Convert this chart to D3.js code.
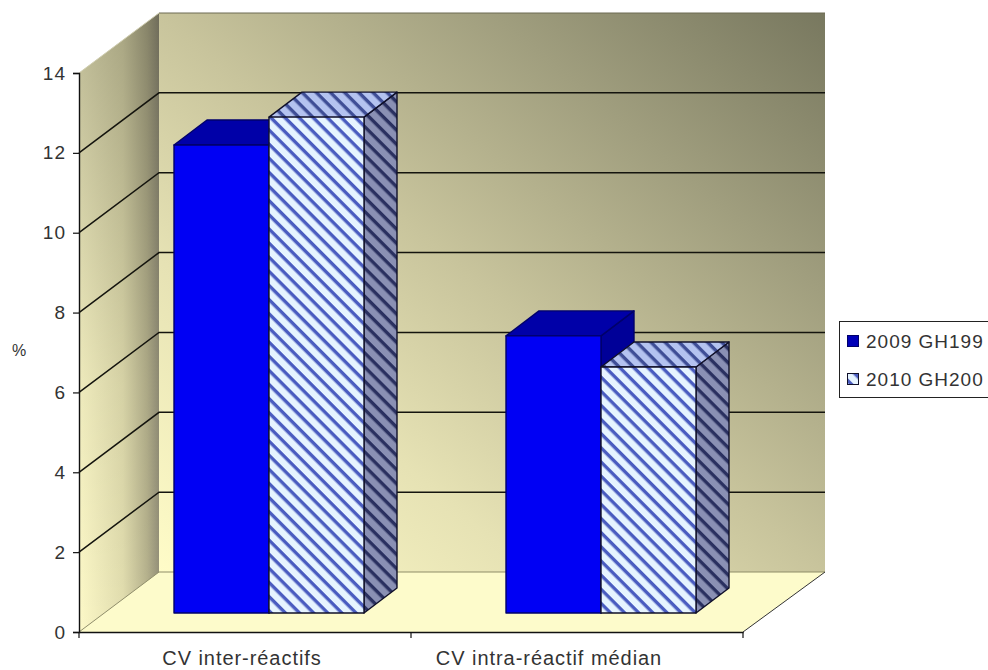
<!DOCTYPE html>
<html>
<head>
<meta charset="utf-8">
<script src="https://cdn.jsdelivr.net/npm/d3@7"></script>
<style>
html,body{margin:0;padding:0;background:#fff;overflow:hidden}
svg{display:block}
text{font-family:"Liberation Sans",Arial,sans-serif;fill:#333}
</style>
</head>
<body>
<svg id="chart" width="988" height="670"></svg>
<script>
const categories = ["CV inter-réactifs", "CV intra-réactif médian"];
const seriesNames = ["2009 GH199", "2010 GH200"];
const series2009 = [11.72, 6.94];
const series2010 = [12.42, 6.16];
const yTicks = [0, 2, 4, 6, 8, 10, 12, 14];
const yLabel = "%";

const svg = d3.select("#chart");
const defs = svg.append("defs");

// Plot frame: the front plane of the box and the oblique offset to its back wall.
const plotLeft = 79, plotRight = 743, plotBottom = 632, plotTop = 73;
const depthX = 80, depthY = -60;
const y = d3.scaleLinear().domain([0, 14]).range([plotBottom, plotTop]);
const x = d3.scaleBand().domain(categories).range([plotLeft, plotRight]);
const seriesBand = d3.scaleBand().domain(seriesNames).range([0, 190]);

// Bars stand partway into the box, and have their own shallower depth.
const barInsetX = 24, barInsetY = -19;
const barDepthX = 33, barDepthY = -25;

function gradient(id, attrs, stops) {
  const g = defs.append("linearGradient").attr("id", id);
  Object.entries(attrs).forEach(([k, v]) => g.attr(k, v));
  stops.forEach(([o, c, a]) => {
    const s = g.append("stop").attr("offset", o).attr("stop-color", c);
    if (a !== undefined) s.attr("stop-opacity", a);
  });
}
// The back wall runs from pale cream at lower left to dark olive at upper right.
gradient("wallBack", {x1: 0, y1: 1, x2: 1, y2: 0}, [
  [0, "#fffcc8"], [0.28, "#e6e2b4"], [0.5, "#c8c49c"], [0.75, "#a09e7e"], [1, "#78785f"]
]);
gradient("wallSide", {x1: 0, y1: 0, x2: 1, y2: 0}, [
  [0, "#fdf9c8"], [0.55, "#e2deaf"], [0.85, "#b7b38e"], [1, "#96927a"]
]);
gradient("wallSideShade", {x1: 0, y1: 0, x2: 0, y2: 1}, [
  ["0", "#000", 0.26], ["0.6", "#000", 0.06], ["1", "#000", 0]
]);

function stripes(id, bg, fg) {
  const p = defs.append("pattern").attr("id", id).attr("patternUnits", "userSpaceOnUse")
    .attr("width", 10).attr("height", 10).attr("patternTransform", "rotate(45)");
  p.append("rect").attr("width", 10).attr("height", 10).attr("fill", bg);
  p.append("rect").attr("width", 10).attr("height", 3.4).attr("fill", fg);
}
stripes("hatchFront", "#e6f4ff", "#4a5cc0");
stripes("hatchTop", "#b4c3f0", "#3f4e96");
stripes("hatchSide", "#8a90b4", "#2a3060");

const pts = a => a.map(p => p.join(",")).join(" ");
const walls = svg.append("g");

// Floor
walls.append("polygon")
  .attr("points", pts([[plotLeft, plotBottom], [plotRight, plotBottom], [plotRight + depthX + 2, plotBottom + depthY], [plotLeft + depthX, plotBottom + depthY]]))
  .attr("fill", "#fdfbcb");

// Back wall
walls.append("rect")
  .attr("x", plotLeft + depthX).attr("y", plotTop + depthY)
  .attr("width", plotRight - plotLeft + 2).attr("height", plotBottom - plotTop)
  .attr("fill", "url(#wallBack)");

// Side wall, darkening toward the back edge and toward the top
const sideWall = pts([[plotLeft, plotBottom], [plotLeft, plotTop], [plotLeft + depthX, plotTop + depthY], [plotLeft + depthX, plotBottom + depthY]]);
walls.append("polygon").attr("points", sideWall).attr("fill", "url(#wallSide)");
walls.append("polygon").attr("points", sideWall).attr("fill", "url(#wallSideShade)");

// Box edges
walls.append("line")
  .attr("x1", plotLeft + depthX).attr("x2", plotRight + depthX + 2)
  .attr("y1", plotTop + depthY).attr("y2", plotTop + depthY)
  .attr("stroke", "#6d6b52").attr("stroke-width", 1);
walls.append("line")
  .attr("x1", plotLeft + depthX).attr("x2", plotRight + depthX + 2)
  .attr("y1", plotBottom + depthY).attr("y2", plotBottom + depthY)
  .attr("stroke", "#8f8d68").attr("stroke-width", 1);
walls.append("line")
  .attr("x1", plotRight).attr("x2", plotRight + depthX + 2)
  .attr("y1", plotBottom).attr("y2", plotBottom + depthY)
  .attr("stroke", "#333").attr("stroke-width", 1);
walls.append("line")
  .attr("x1", plotLeft).attr("x2", plotLeft + depthX)
  .attr("y1", y(0)).attr("y2", y(0) + depthY)
  .attr("stroke", "#8f8d68").attr("stroke-width", 1);
walls.append("line")
  .attr("x1", plotLeft).attr("x2", plotLeft + depthX)
  .attr("y1", y(14)).attr("y2", y(14) + depthY)
  .attr("stroke", "#cfcdb0").attr("stroke-width", 1);

// Gridlines along the side wall and across the back wall
const gridTicks = yTicks.filter(t => t > 0 && t < 14);
const grid = svg.append("g").attr("stroke", "#14140e").attr("fill", "none").attr("stroke-width", 1.5);
grid.selectAll("path").data(gridTicks).join("path")
  .attr("d", t => `M${plotLeft},${y(t)}L${plotLeft + depthX},${y(t) + depthY}L${plotRight + depthX + 2},${y(t) + depthY}`);

// Bars: one face at a time, back faces first
const rows = categories.map((c, i) => [
  {cat: c, name: seriesNames[0], v: series2009[i]},
  {cat: c, name: seriesNames[1], v: series2010[i]}
]).flat();

function barGeom(d) {
  const x0 = x(d.cat) + barInsetX + (x.bandwidth() - seriesBand.range()[1]) / 2 + seriesBand(d.name);
  const x1 = x0 + seriesBand.bandwidth();
  return {x0, x1, yTop: y(d.v) + barInsetY, yBase: y(0) + barInsetY};
}
const styles = {
  [seriesNames[0]]: {front: "#0000f4", top: "#0000a8", side: "#000098", stroke: "#00006a", chip: "#0000b8"},
  [seriesNames[1]]: {front: "url(#hatchFront)", top: "url(#hatchTop)", side: "url(#hatchSide)", stroke: "#10102a", chip: "url(#hatchFront)"}
};

// Draw order keeps nearer bars on top of the tops and sides behind them.
const bars = svg.append("g");
rows.forEach(d => {
  const g = barGeom(d), s = styles[d.name];
  const bar = bars.append("g").attr("stroke", s.stroke).attr("stroke-width", 1.4).attr("stroke-linejoin", "round");
  bar.append("polygon")
    .attr("points", pts([[g.x1, g.yTop], [g.x1 + barDepthX, g.yTop + barDepthY], [g.x1 + barDepthX, g.yBase + barDepthY], [g.x1, g.yBase]]))
    .attr("fill", s.side);
  bar.append("polygon")
    .attr("points", pts([[g.x0, g.yTop], [g.x0 + barDepthX, g.yTop + barDepthY], [g.x1 + barDepthX, g.yTop + barDepthY], [g.x1, g.yTop]]))
    .attr("fill", s.top);
  bar.append("rect")
    .attr("x", g.x0).attr("y", g.yTop)
    .attr("width", g.x1 - g.x0).attr("height", g.yBase - g.yTop)
    .attr("fill", s.front);
});

// Axes
const axisY = svg.append("g").attr("transform", `translate(${plotLeft},0)`)
  .call(d3.axisLeft(y).tickValues(yTicks).tickSize(6).tickPadding(7).tickFormat(d3.format("d")));
axisY.selectAll("text").attr("font-size", 19).attr("letter-spacing", 1).style("fill", "#333");
axisY.select(".domain").attr("stroke", "#111").attr("stroke-width", 1.4);
axisY.selectAll(".tick line").attr("stroke", "#111").attr("stroke-width", 1.2);

const axisX = svg.append("g").attr("transform", `translate(0,${plotBottom})`)
  .call(d3.axisBottom(x).tickSize(0).tickPadding(19));
axisX.selectAll(".tick text").attr("font-size", 20).attr("letter-spacing", 0.95).style("fill", "#333")
  .attr("dx", (d, i) => [-3, -28][i]);
axisX.select(".domain").attr("stroke", "#111").attr("stroke-width", 1.4);
axisX.selectAll(".sep").data([plotLeft, plotLeft + x.bandwidth(), plotRight]).join("line")
  .attr("class", "sep").attr("x1", d => d).attr("x2", d => d)
  .attr("y1", 0).attr("y2", 6).attr("stroke", "#111").attr("stroke-width", 1.2);

svg.append("text").attr("x", 19).attr("y", 356).attr("text-anchor", "middle")
  .attr("font-size", 16).text(yLabel);

// Legend
const legend = svg.append("g");
legend.append("rect").attr("x", 839.5).attr("y", 321.5).attr("width", 170).attr("height", 76)
  .attr("fill", "#fff").attr("stroke", "#222").attr("stroke-width", 1);
const item = legend.selectAll("g.item").data(seriesNames).join("g").attr("class", "item")
  .attr("transform", (d, i) => `translate(0,${341 + i * 38})`);
item.append("rect").attr("x", 847.5).attr("y", -5.5).attr("width", 11).attr("height", 11)
  .attr("fill", d => styles[d].chip).attr("stroke", d => styles[d].stroke);
item.append("text").attr("x", 866).attr("y", 7).attr("font-size", 19).attr("letter-spacing", 1).text(d => d);
</script>
</body>
</html>
